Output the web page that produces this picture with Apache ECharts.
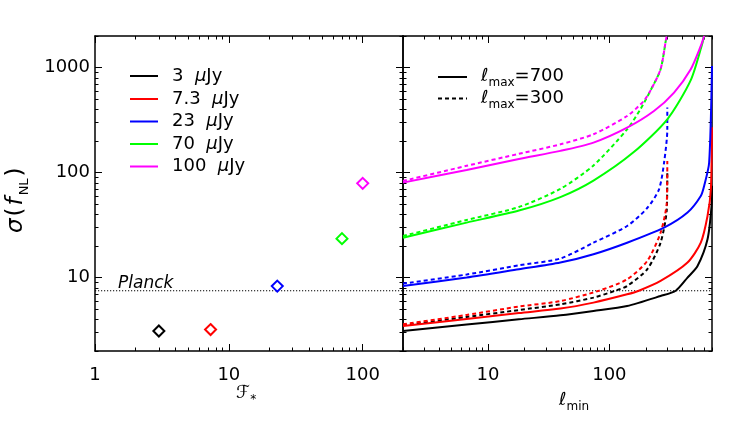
<!DOCTYPE html>
<html>
<head>
<meta charset="utf-8">
<script src="https://cdn.jsdelivr.net/npm/echarts@6/dist/echarts.min.js"></script>
<style>
  html, body { margin: 0; padding: 0; background: #fff; }
  #chart { width: 747px; height: 427px; }
</style>
</head>
<body>
<div id="chart"></div>
<script>
// left panel: sigma(fNL) for each flux limit
var fluxes = [3, 7.3, 23, 70, 100];
var sigmaFlux = [3.1, 3.2, 8.3, 23.5, 79];
var fluxNames = ['3  μJy', '7.3  μJy', '23  μJy', '70  μJy', '100  μJy'];
var colors = ['#000000', '#ff0000', '#0000ff', '#00ff00', '#ff00ff'];
var planck = 7.5;

// right panel: sigma(fNL) vs lmin, [lmin, sigma]
// lmax = 700 (solid)
var solid3 = [[2,3.1],[6.68,3.57],[18,4.01],[39.5,4.37],[74,4.81],[140,5.37],[264,6.68],[352,7.5],[440,10],[532,12.9],[643,23.2],[694,48],[700,75]];
var solid7 = [[2,3.46],[6.68,4.04],[18,4.6],[39.5,5.07],[74,5.78],[140,6.93],[175,7.5],[264,9.29],[440,13.9],[566,21.5],[643,38.6],[685,69],[700,270]];
var solid23 = [[2,8.32],[6.68,10],[18,12],[39.5,13.9],[74,16.7],[140,21.5],[282,29.9],[440,41.6],[566,59.8],[603,74.5],[663,124],[700,1035]];
var solid70 = [[2,24],[6.68,33.4],[18,43.5],[39.5,58.5],[74,84],[158,156],[300,322],[468,760],[585,1730],[600,2000]];
var solid100 = [[2,80.3],[6.68,106],[18,135],[39.5,161],[74,193],[140,268],[233,386],[341,578],[468,963],[566,1607],[603,2000]];
// lmax = 300 (dashed)
var dash3 = [[2,3.51],[6.68,4.22],[18,4.91],[39.5,5.57],[74,6.45],[112,7.5],[140,8.32],[205,12],[264,21.5],[297,44.7],[300,103]];
var dash7 = [[2,3.59],[6.68,4.41],[18,5.3],[39.5,5.98],[82,7.5],[140,9.63],[205,14.4],[264,26.8],[297,51.8],[300,129]];
var dash23 = [[2,8.77],[6.68,10.7],[18,13.1],[39.5,15.2],[74,21.5],[140,31],[205,46],[256,69],[282,124],[300,258],[300,416]];
var dash70 = [[2,24.9],[6.68,35.4],[18,47],[39.5,70],[74,117],[140,258],[180,401],[219,610],[264,963],[293,1862],[297,2000]];
var dash100 = [[2,83.2],[6.68,116],[18,151],[39.5,186],[74,232],[140,346],[192,481],[219,610],[264,963],[293,1862],[297,2000]];

var solidCurves = [solid3, solid7, solid23, solid70, solid100];
var dashCurves = [dash3, dash7, dash23, dash70, dash100];

// ticks
var leftXMajor = [1, 10, 100];
var leftXMinor = [2,3,4,5,6,7,8,9,20,30,40,50,60,70,80,90,200];
var rightXMajor = [10, 100];
var rightXMinor = [2,3,4,5,6,7,8,9,20,30,40,50,60,70,80,90,200,300,400,500,600,700];
var yMajor = [10, 100, 1000];
var yMinor = [2,3,4,5,6,7,8,9,20,30,40,50,60,70,80,90,200,300,400,500,600,700,800,900,2000];

var FONT = 'DejaVu Sans';

function tickAxis(grid, pos, min, max, vals, len, withLine, labels, margin) {
  return {
    gridIndex: grid,
    type: 'log',
    position: pos,
    min: min,
    max: max,
    axisLine: { show: withLine, lineStyle: { color: '#000', width: 1.5 } },
    axisTick: { show: true, inside: true, length: len, customValues: vals, lineStyle: { color: '#000', width: 1 } },
    axisLabel: labels ? {
      show: true, customValues: labels, color: '#000', fontSize: 18, fontFamily: FONT, margin: margin,
      formatter: function (v) { return String(Math.round(v)); }
    } : { show: false },
    splitLine: { show: false },
    minorTick: { show: false }
  };
}

var xAxes = [
  // grid 0 (left): index 0..3
  tickAxis(0, 'bottom', 1, 200, leftXMajor, 7, true, leftXMajor, 15),
  tickAxis(0, 'bottom', 1, 200, leftXMinor, 3.5, false, null),
  tickAxis(0, 'top', 1, 200, leftXMajor, 7, true, null),
  tickAxis(0, 'top', 1, 200, leftXMinor, 3.5, false, null),
  // grid 1 (right): index 4..7
  tickAxis(1, 'bottom', 2, 700, rightXMajor, 7, true, rightXMajor, 15),
  tickAxis(1, 'bottom', 2, 700, rightXMinor, 3.5, false, null),
  tickAxis(1, 'top', 2, 700, rightXMajor, 7, true, null),
  tickAxis(1, 'top', 2, 700, rightXMinor, 3.5, false, null)
];
var yAxes = [
  tickAxis(0, 'left', 2, 2000, yMajor, 7, true, yMajor, 5),
  tickAxis(0, 'left', 2, 2000, yMinor, 3.5, false, null),
  tickAxis(0, 'right', 2, 2000, yMajor, 7, true, null),
  tickAxis(0, 'right', 2, 2000, yMinor, 3.5, false, null),
  tickAxis(1, 'left', 2, 2000, yMajor, 7, true, null),
  tickAxis(1, 'left', 2, 2000, yMinor, 3.5, false, null),
  tickAxis(1, 'right', 2, 2000, yMajor, 7, true, null),
  tickAxis(1, 'right', 2, 2000, yMinor, 3.5, false, null)
];

var series = [];
// Planck line in both panels
series.push({
  type: 'line', xAxisIndex: 0, yAxisIndex: 0, silent: true, symbol: 'none',
  data: [[1, planck], [200, planck]],
  lineStyle: { color: '#000', width: 1.2, type: [1.2, 1.8] }, z: 1
});
series.push({
  type: 'line', xAxisIndex: 4, yAxisIndex: 4, silent: true, symbol: 'none',
  data: [[2, planck], [700, planck]],
  lineStyle: { color: '#000', width: 1.2, type: [1.2, 1.8] }, z: 1
});
// diamonds
for (var i = 0; i < fluxes.length; i++) {
  series.push({
    type: 'scatter', xAxisIndex: 0, yAxisIndex: 0,
    name: fluxNames[i],
    symbol: 'diamond', symbolSize: 11,
    itemStyle: { color: '#fff', borderColor: colors[i], borderWidth: 2, opacity: 1 },
    data: [[fluxes[i], sigmaFlux[i]]], z: 3
  });
}
// curves
for (var j = 0; j < solidCurves.length; j++) {
  series.push({
    type: 'line', xAxisIndex: 4, yAxisIndex: 4, symbol: 'none',
    smooth: 0.25,
    data: solidCurves[j],
    lineStyle: { color: colors[j], width: 2 }, z: 2
  });
  series.push({
    type: 'line', xAxisIndex: 4, yAxisIndex: 4, symbol: 'none',
    smooth: 0.25,
    data: dashCurves[j],
    lineStyle: { color: colors[j], width: 2, type: [4, 3] }, z: 2
  });
}

// legends drawn as graphic
var graphics = [];
var legRows = [76, 99, 121.5, 144, 166.5];
for (var k = 0; k < fluxNames.length; k++) {
  graphics.push({
    type: 'line', shape: { x1: 130, y1: legRows[k], x2: 158, y2: legRows[k] },
    style: { stroke: colors[k], lineWidth: 2 }
  });
  graphics.push({
    type: 'text', x: 172, y: legRows[k],
    style: {
      text: fluxNames[k].replace('μ', '{m|μ}'),
      fill: '#000', fontSize: 18, fontFamily: FONT, verticalAlign: 'middle',
      rich: { m: { fontSize: 18, fontFamily: FONT, fontStyle: 'italic' } }
    }
  });
}
var subRich = {
  a: { fontSize: 18, fontFamily: FONT, fontStyle: 'italic', lineHeight: 18, verticalAlign: 'top' },
  b: { fontSize: 18, fontFamily: FONT, lineHeight: 18, verticalAlign: 'top' },
  s: { fontSize: 12, fontFamily: FONT, lineHeight: 12, padding: [10, 0, 0, 0], verticalAlign: 'top' }
};
var bigRich = {
  a: { fontSize: 23, fontFamily: FONT, fontStyle: 'italic', lineHeight: 23, verticalAlign: 'top', padding: [0, 1, 0, 1] },
  b: { fontSize: 23, fontFamily: FONT, lineHeight: 23, verticalAlign: 'top', padding: [0, 1, 0, 1] },
  s: { fontSize: 13, fontFamily: FONT, lineHeight: 13, padding: [13, 1, 0, 1], verticalAlign: 'top' }
};
graphics.push({ type: 'line', shape: { x1: 438, y1: 77, x2: 467, y2: 77 }, style: { stroke: '#000', lineWidth: 2 } });
graphics.push({ type: 'line', shape: { x1: 438, y1: 98.5, x2: 467, y2: 98.5 }, style: { stroke: '#000', lineWidth: 2, lineDash: [4, 3] } });
graphics.push({ type: 'text', x: 481, y: 67, style: { text: '{a|ℓ}{s|max}{b|=700}', rich: subRich } });
graphics.push({ type: 'text', x: 481, y: 89, style: { text: '{a|ℓ}{s|max}{b|=300}', rich: subRich } });
// Planck label
graphics.push({
  type: 'text', x: 118, y: 284,
  style: { text: 'Planck', fill: '#000', fontSize: 17, fontFamily: FONT, fontStyle: 'italic', verticalAlign: 'middle' }
});
// axis titles
graphics.push({ type: 'text', x: 236, y: 384, style: { text: '{b|ℱ}{s|*}', rich: subRich } });
graphics.push({ type: 'text', x: 559, y: 391, style: { text: '{a|ℓ}{s|min}', rich: subRich } });
graphics.push({
  type: 'text', x: 5, y: 234, rotation: Math.PI / 2,
  style: { text: '{a|σ}{b|(}{a|f}{s|NL}{b|)}', rich: bigRich }
});

var chart = echarts.init(document.getElementById('chart'), null, { renderer: 'canvas' });
chart.setOption({
  animation: false,
  backgroundColor: '#fff',
  grid: [
    { left: 95, top: 36, width: 308, height: 315 },
    { left: 403, top: 36, width: 309, height: 315 }
  ],
  xAxis: xAxes,
  yAxis: yAxes,
  series: series,
  graphic: graphics
});
</script>
</body>
</html>
